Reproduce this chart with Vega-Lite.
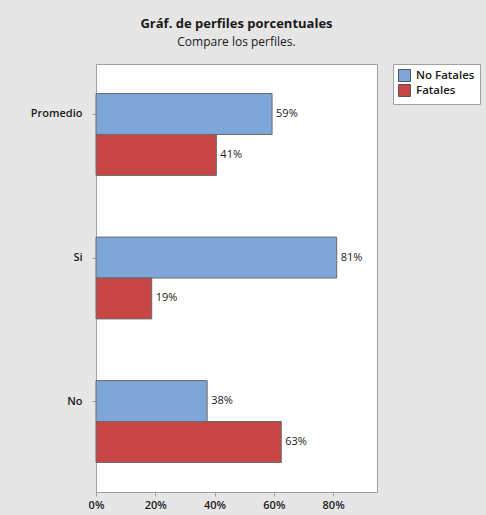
{
  "$schema": "https://vega.github.io/schema/vega-lite/v6.json",
  "width": 281,
  "height": 428,
  "autosize": {"type": "none"},
  "padding": {"left": 96, "top": 64, "right": 109, "bottom": 23},
  "background": "#e6e6e6",
  "title": {
    "text": "Gráf. de perfiles porcentuales",
    "subtitle": "Compare los perfiles.",
    "anchor": "middle",
    "font": "Open Sans",
    "fontSize": 13,
    "fontWeight": "bold",
    "subtitleFont": "Open Sans",
    "subtitleFontSize": 12,
    "subtitlePadding": 6,
    "color": "#1a1a1a",
    "subtitleColor": "#1a1a1a",
    "offset": 16
  },
  "config": {
    "view": {"fill": "white", "stroke": "#a0a0a0"},
    "font": "Open Sans"
  },
  "data": {
    "values": [
      {"cat": "Promedio", "serie": "No Fatales", "pct": 0.594},
      {"cat": "Promedio", "serie": "Fatales", "pct": 0.406},
      {"cat": "Si", "serie": "No Fatales", "pct": 0.812},
      {"cat": "Si", "serie": "Fatales", "pct": 0.188},
      {"cat": "No", "serie": "No Fatales", "pct": 0.375},
      {"cat": "No", "serie": "Fatales", "pct": 0.625}
    ]
  },
  "encoding": {
    "y": {
      "field": "cat",
      "type": "nominal",
      "sort": ["Promedio", "Si", "No"],
      "scale": {"paddingInner": 0.43, "paddingOuter": 0.206},
      "axis": {
        "title": null,
        "domain": false,
        "tickOffset": -20.5,
        "tickColor": "#a0a0a0",
        "tickSize": 4,
        "labelFontWeight": 600,
        "labelFontSize": 11,
        "labelColor": "#1a1a1a",
        "labelPadding": 10
      }
    },
    "yOffset": {
      "field": "serie",
      "type": "nominal",
      "sort": ["No Fatales", "Fatales"]
    },
    "x": {
      "field": "pct",
      "type": "quantitative",
      "scale": {"domain": [0, 0.948], "nice": false},
      "axis": {
        "title": null,
        "format": ".0%",
        "values": [0, 0.2, 0.4, 0.6, 0.8],
        "grid": false,
        "domain": false,
        "labelFlush": false,
        "tickColor": "#a0a0a0",
        "tickSize": 4,
        "labelFontWeight": 600,
        "labelFontSize": 11,
        "labelColor": "#1a1a1a",
        "labelPadding": 3
      }
    }
  },
  "layer": [
    {
      "mark": {"type": "bar", "stroke": "#6a6a6a", "strokeWidth": 1},
      "encoding": {
        "color": {
          "field": "serie",
          "type": "nominal",
          "scale": {"domain": ["No Fatales", "Fatales"], "range": ["#7ea6d9", "#c84646"]},
          "legend": {
            "title": null,
            "orient": "none",
            "legendX": 297,
            "legendY": 0,
            "fillColor": "white",
            "strokeColor": "#a0a0a0",
            "padding": 5,
            "symbolType": "square",
            "symbolSize": 144,
            "symbolStrokeColor": "#555555",
            "symbolStrokeWidth": 1,
            "symbolOpacity": 1,
            "labelFontSize": 11.5,
            "labelFontWeight": 600,
            "labelColor": "#1a1a1a",
            "rowPadding": -2,
            "labelOffset": 5
          }
        }
      }
    },
    {
      "mark": {"type": "text", "align": "left", "dx": 4, "fontSize": 11, "color": "#1a1a1a"},
      "encoding": {
        "text": {"field": "pct", "type": "quantitative", "format": ".0%"}
      }
    }
  ]
}
